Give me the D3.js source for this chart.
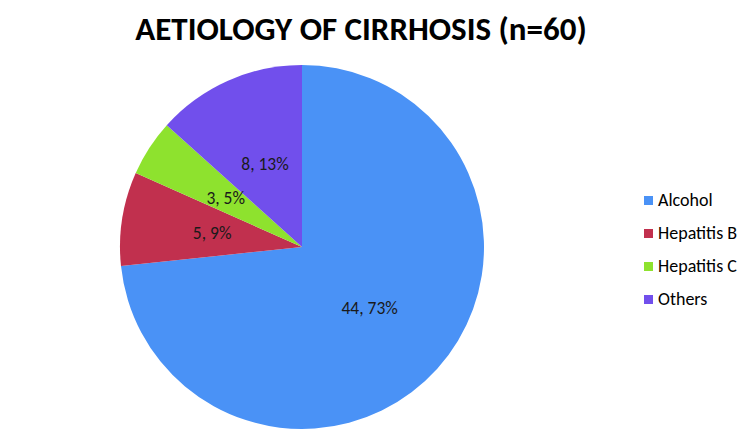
<!DOCTYPE html>
<html>
<head>
<meta charset="utf-8">
<script src="https://cdn.jsdelivr.net/npm/d3@7"></script>
<style>
  html, body { margin: 0; padding: 0; background: #fff; }
  svg { display: block; }
</style>
</head>
<body>
<script>
const title = "AETIOLOGY OF CIRRHOSIS (n=60)";
const categories = ["Alcohol", "Hepatitis B", "Hepatitis C", "Others"];
const values = [44, 5, 3, 8];
const percentLabels = ["73%", "9%", "5%", "13%"];
const colors = ["#4A92F6", "#C1304E", "#8EE22E", "#714FEC"];

const W = 750, H = 443;
const svg = d3.select("body").append("svg").attr("width", W).attr("height", H);
const font = "Carlito, Calibri, Lato, 'Open Sans', 'Liberation Sans', sans-serif";

svg.append("text")
  .attr("x", 361).attr("y", 40)
  .attr("text-anchor", "middle")
  .attr("font-family", font)
  .attr("font-weight", "bold")
  .attr("font-size", 33)
  .attr("fill", "#000")
  .text(title);

const cx = 302, cy = 247, r = 182;
const pie = d3.pie().sort(null).value(d => d.v);
const data = categories.map((c, i) => ({ c, v: values[i], p: percentLabels[i], col: colors[i] }));
const arcs = pie(data);
const arc = d3.arc().innerRadius(0).outerRadius(r);

const g = svg.append("g").attr("transform", `translate(${cx},${cy})`);
g.selectAll("path").data(arcs).enter().append("path")
  .attr("d", arc)
  .attr("fill", d => d.data.col);

g.selectAll("text.lbl").data(arcs).enter().append("text")
  .attr("class", "lbl")
  .attr("transform", d => { const [x, y] = arc.centroid(d); return `translate(${x},${y})`; })
  .attr("text-anchor", "middle")
  .attr("dy", "0.35em")
  .attr("font-family", font)
  .attr("font-size", 17.5)
  .attr("fill", "#1a1a1a")
  .text(d => `${d.data.v}, ${d.data.p}`);

const legend = svg.append("g");
const ly = d3.scalePoint().domain(categories).range([200, 299]);
const items = legend.selectAll("g").data(data).enter().append("g")
  .attr("transform", d => `translate(644,${ly(d.c)})`);
items.append("rect").attr("x", 0).attr("y", -4).attr("width", 9).attr("height", 9)
  .attr("fill", d => d.col);
items.append("text").attr("x", 14).attr("y", 0).attr("dy", "0.35em")
  .attr("font-family", font).attr("font-size", 18).attr("fill", "#000")
  .text(d => d.c);
</script>
</body>
</html>
